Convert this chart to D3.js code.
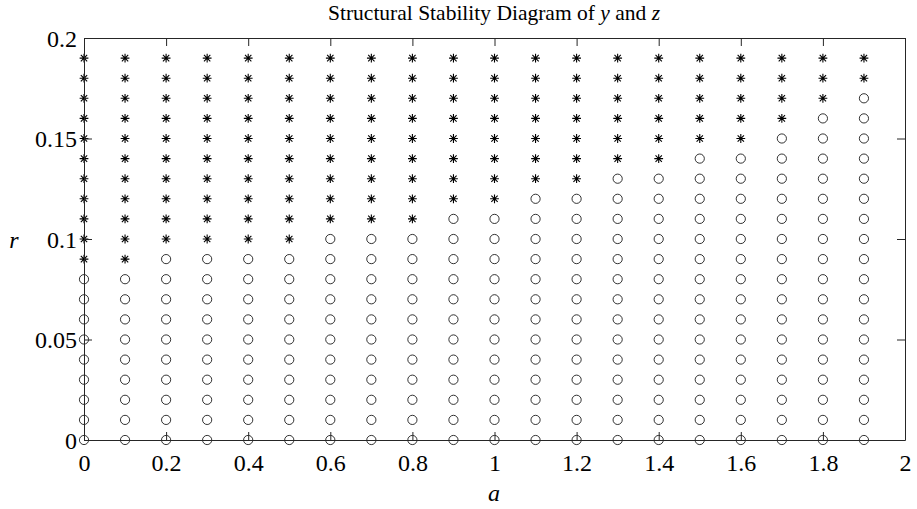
<!DOCTYPE html>
<html>
<head>
<meta charset="utf-8">
<script src="https://cdn.jsdelivr.net/npm/d3@7/dist/d3.min.js"></script>
<style>
  html, body { margin: 0; padding: 0; background: #fff; }
  svg { display: block; font-family: "Liberation Serif", "DejaVu Serif", serif; }
</style>
</head>
<body>
<svg id="chart" width="917" height="509"></svg>
<script>
'use strict';

/* ── Data ── */
const aValues = [0, 0.1, 0.2, 0.3, 0.4, 0.5, 0.6, 0.7, 0.8, 0.9, 1.0, 1.1, 1.2, 1.3, 1.4, 1.5, 1.6, 1.7, 1.8, 1.9];
const rValues = [0, 0.01, 0.02, 0.03, 0.04, 0.05, 0.06, 0.07, 0.08, 0.09, 0.10, 0.11, 0.12, 0.13, 0.14, 0.15, 0.16, 0.17, 0.18, 0.19];
// lowest r (per a column) from which points are marked with '*'
const starFrom = [0.09, 0.09, 0.10, 0.10, 0.10, 0.10, 0.11, 0.11, 0.11, 0.12, 0.12, 0.13, 0.13, 0.14, 0.14, 0.15, 0.15, 0.16, 0.17, 0.18];
const xTicks = [0, 0.2, 0.4, 0.6, 0.8, 1, 1.2, 1.4, 1.6, 1.8, 2];
const yTicks = [0, 0.05, 0.1, 0.15, 0.2];

/* ── Layout ── */
const m = { left: 84, right: 905, top: 38, bottom: 440 };
const axisColor = '#262626';
const tickLen = 8;

const x = d3.scaleLinear().domain([0, 2]).range([m.left, m.right]);
const y = d3.scaleLinear().domain([0, 0.2]).range([m.bottom, m.top]);

const svg = d3.select('#chart');

/* ── Points ── */
const points = [];
aValues.forEach((a, i) => {
  rValues.forEach(r => {
    points.push({ a, r, star: r >= starFrom[i] - 1e-9 });
  });
});

const g = svg.append('g');

g.selectAll('circle.pt')
  .data(points.filter(p => !p.star))
  .join('circle')
  .attr('class', 'pt')
  .attr('cx', d => x(d.a))
  .attr('cy', d => y(d.r))
  .attr('r', 4.6)
  .attr('fill', 'none')
  .attr('stroke', '#000')
  .attr('stroke-width', 0.8);

const s = 4.4;
const k = s * 0.72;
const starPath = `M${-s},0H${s}M0,${-s}V${s}M${-k},${-k}L${k},${k}M${-k},${k}L${k},${-k}`;
g.selectAll('path.star')
  .data(points.filter(p => p.star))
  .join('path')
  .attr('class', 'star')
  .attr('transform', d => `translate(${x(d.a)},${y(d.r)})`)
  .attr('d', starPath)
  .attr('fill', 'none')
  .attr('stroke', '#000')
  .attr('stroke-width', 1.1);

/* ── Axes (box, inward ticks) ── */
const fmt = d => String(+d.toFixed(3));

const axBottom = svg.append('g')
  .attr('transform', `translate(0,${m.bottom})`)
  .call(d3.axisBottom(x).tickValues(xTicks).tickSizeInner(-tickLen).tickSizeOuter(0).tickPadding(14).tickFormat(fmt));
const axTop = svg.append('g')
  .attr('transform', `translate(0,${m.top})`)
  .call(d3.axisTop(x).tickValues(xTicks).tickSizeInner(-tickLen).tickSizeOuter(0).tickFormat(''));
const axLeft = svg.append('g')
  .attr('transform', `translate(${m.left},0)`)
  .call(d3.axisLeft(y).tickValues(yTicks).tickSizeInner(-tickLen).tickSizeOuter(0).tickPadding(7).tickFormat(fmt));
const axRight = svg.append('g')
  .attr('transform', `translate(${m.right},0)`)
  .call(d3.axisRight(y).tickValues(yTicks).tickSizeInner(-tickLen).tickSizeOuter(0).tickFormat(''));

[axBottom, axTop, axLeft, axRight].forEach(ax => {
  ax.select('.domain').attr('stroke', axisColor).attr('stroke-width', 1);
  ax.selectAll('.tick line').attr('stroke', axisColor).attr('stroke-width', 1);
  ax.selectAll('.tick text')
    .attr('fill', '#000')
    .style('font-family', '"Liberation Serif", "DejaVu Serif", serif')
    .style('font-size', '24px');
});
axLeft.selectAll('.tick text').attr('dy', '0.34em');

/* ── Labels ── */
svg.append('text')
  .attr('x', 494).attr('y', 20)
  .attr('text-anchor', 'middle')
  .style('font-size', '21.5px')
  .html('Structural Stability Diagram of <tspan font-style="italic">y</tspan> and <tspan font-style="italic">z</tspan>');

svg.append('text')
  .attr('x', 494).attr('y', 501)
  .attr('text-anchor', 'middle')
  .style('font-size', '24px')
  .style('font-style', 'italic')
  .text('a');

svg.append('text')
  .attr('x', 14).attr('y', 248)
  .attr('text-anchor', 'middle')
  .style('font-size', '24px')
  .style('font-style', 'italic')
  .text('r');
</script>
</body>
</html>
